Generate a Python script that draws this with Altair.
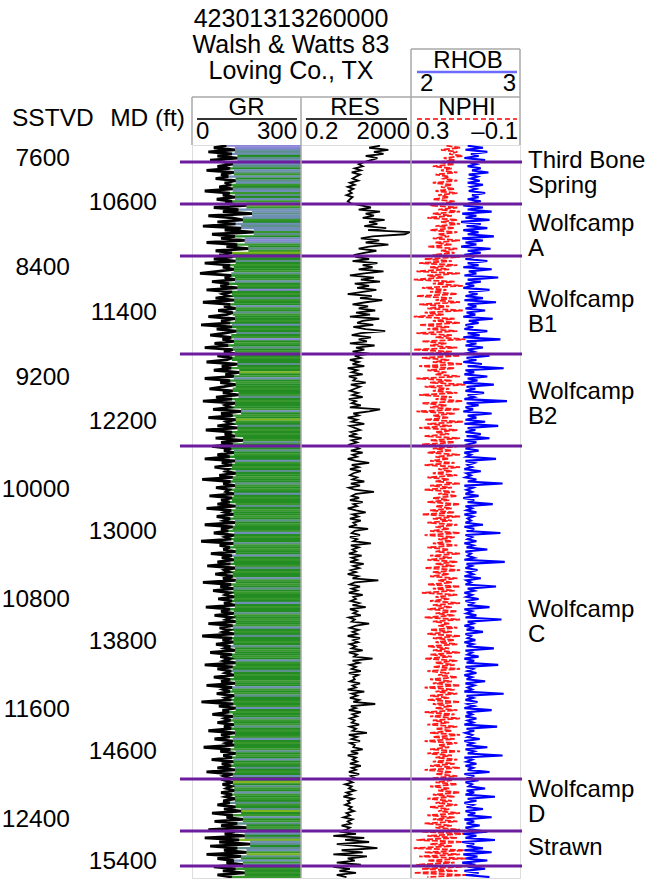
import altair as alt
import pandas as pd

FONT = "Liberation Sans"
GRID = "#a8a8a8"
PURPLE = "#6c1d9e"

# ---------------- data ----------------
MD_START = 10185   # first sample (ft MD)
MD_STEP = 15       # sample spacing (ft)

gr = [
    95, 60, 118, 45, 110, 70, 125, 50, 88, 112, 70, 105, 40, 115, 80, 100, 65, 120, 90, 108,
    75, 112, 35, 104, 85, 118, 68, 110, 92, 150, 60, 128, 85, 165, 45, 110, 140, 70, 120, 30,
    135, 90, 170, 55, 118, 80, 145, 40, 125, 95, 155, 65, 110, 75, 112, 60, 120, 35, 105, 85,
    115, 70, 22, 108, 90, 118, 55, 102, 78, 125, 40, 110, 85, 100, 65, 116, 30, 105, 88, 120,
    72, 112, 95, 45, 118, 80, 105, 25, 110, 68, 122, 90, 50, 108, 84, 115, 62, 100, 35, 112,
    88, 118, 70, 110, 95, 40, 125, 82, 108, 60, 130, 92, 115, 35, 105, 78, 120, 88, 48, 112,
    85, 128, 66, 110, 30, 118, 92, 104, 58, 135, 80, 112, 45, 120, 95, 108, 70, 125, 38, 110,
    90, 118, 65, 140, 80, 112, 55, 108, 88, 115, 70, 104, 35, 118, 82, 110, 62, 100, 92, 120,
    75, 112, 28, 106, 86, 118, 66, 102, 94, 115, 48, 110, 80, 104, 70, 120, 40, 108, 90, 114,
    68, 105, 88, 118, 35, 112, 80, 100, 60, 116, 92, 108, 25, 114, 76, 104, 86, 120, 52, 110,
    82, 115, 70, 106, 42, 118, 90, 102, 64, 112, 85, 120, 30, 108, 78, 114, 58, 104, 92, 116,
    72, 110, 88, 118, 38, 105, 80, 115, 62, 108, 94, 120, 45, 112, 76, 102, 86, 116, 28, 110,
    84, 114, 66, 106, 90, 118, 50, 110, 78, 104, 88, 120, 35, 112, 70, 108, 92, 115, 60, 105,
    80, 118, 40, 110, 86, 104, 68, 116, 92, 108, 26, 114, 74, 120, 84, 102, 56, 112, 90, 106,
    70, 115, 88, 108, 45, 118, 80, 104, 62, 112, 94, 116, 32, 106, 78, 120, 86, 110, 54, 114,
    82, 108, 70, 118, 40, 112, 88, 104, 90, 112, 84, 108, 95, 116, 80, 110, 92, 118, 86, 104,
    70, 120, 88, 135, 55, 112, 95, 140, 62, 125, 80, 150, 45, 118, 90, 145, 35, 130, 75, 160,
    50, 125, 88, 150, 40, 135, 70, 115, 95, 140, 60, 120, 85, 145, 70, 110,
]

gr_shade = "".join([
    "PPBTBGTBgBTGBTgBGTBg", "GTBgTGBgTYgBBTBBgGBT", "BBgTGBPBgGTgYGgGTGgG",
    "GgTGGgBGgGPGgGTgGGBg", "GTgGGgGBGgGTGgPGgGTG", "gGGgGGTGgGYGgBGgGGgG",
    "GgTGgGGGgBGgGYgGTGgG", "gGGgTGgGTGgGGBgGgGTG", "GgGGTgGgGBGgGGgTGgGG",
    "gGTGgGGgBGgGGTgGgGGB", "GgGGgTGgGGBgGgGTGgGG", "gGBGgGGTgGgGGgBGgGTG",
    "GgGTGgGGgGBgGgGTGgGG", "gGGBgGgTGGgGgBGgGGTg", "GgTGgGGgBGgGGgTGgGBG",
    "gGTGgGBGgYGTgGBgGgGT", "gGTYGgBGgTGgGTBGTYBT", "GTBgYTGBgTGgGgGg",
])

res = [
    150, 60, 300, 90, 200, 45, 120, 70, 40, 25, 35, 18, 30, 14, 28, 20, 15, 24, 12, 18,
    10, 16, 11, 14, 9, 15, 12, 10, 13, 30, 70, 25, 150, 45, 90, 35, 220, 60, 120, 40,
    250, 55, 1800, 1200, 80, 30, 140, 45, 300, 60, 25, 110, 40, 18, 20, 60, 15, 120, 35, 80,
    25, 200, 40, 12, 90, 30, 150, 18, 60, 22, 110, 35, 10, 75, 28, 180, 45, 15, 55, 25,
    100, 20, 65, 12, 140, 35, 22, 85, 16, 45, 230, 30, 14, 70, 25, 50, 12, 95, 20, 40,
    15, 60, 18, 30, 12, 25, 15, 40, 10, 22, 14, 35, 11, 20, 16, 45, 13, 28, 18, 12,
    24, 15, 35, 11, 20, 14, 30, 12, 150, 60, 16, 25, 10, 22, 14, 40, 12, 18, 28, 13,
    20, 11, 32, 14, 22, 12, 18, 26, 13, 35, 15, 22, 10, 20, 60, 14, 25, 12, 30, 16,
    12, 22, 15, 40, 13, 28, 11, 18, 90, 20, 14, 26, 12, 35, 16, 22, 10, 20, 45, 15,
    24, 12, 30, 16, 20, 11, 55, 18, 14, 28, 12, 22, 16, 70, 13, 25, 15, 20, 11, 32,
    14, 22, 12, 38, 16, 26, 13, 20, 10, 24, 15, 130, 18, 12, 28, 14, 22, 11, 35, 16,
    20, 13, 26, 15, 45, 12, 22, 16, 30, 11, 18, 14, 60, 20, 12, 25, 15, 22, 10, 28,
    16, 24, 12, 20, 14, 35, 11, 22, 17, 80, 15, 26, 12, 20, 14, 30, 11, 24, 16, 18,
    12, 28, 15, 20, 10, 40, 14, 22, 12, 26, 16, 100, 13, 20, 11, 30, 15, 22, 12, 18,
    14, 26, 12, 20, 15, 50, 11, 22, 14, 28, 12, 18, 16, 35, 13, 24, 10, 20, 15, 22,
    12, 30, 14, 20, 11, 26, 13, 18, 10, 15, 8, 14, 11, 18, 9, 13, 7, 16, 10, 12,
    8, 14, 11, 17, 9, 12, 7, 15, 10, 13, 6, 12, 9, 5, 20, 3, 40, 8, 60, 4,
    25, 120, 6, 35, 3, 50, 10, 18, 4, 30, 3, 12, 5, 20, 4, 9,
]

nphi = [
    0.17, 0.12, 0.19, 0.13, 0.16, 0.11, 0.18, 0.14, 0.20, 0.14, 0.22, 0.15, 0.19, 0.13, 0.21, 0.16, 0.18, 0.13, 0.22, 0.15,
    0.19, 0.14, 0.21, 0.13, 0.20, 0.16, 0.22, 0.14, 0.18, 0.23, 0.13, 0.20, 0.12, 0.22, 0.15, 0.24, 0.13, 0.19, 0.12, 0.21,
    0.14, 0.23, 0.13, 0.20, 0.16, 0.22, 0.12, 0.21, 0.15, 0.24, 0.13, 0.19, 0.14, 0.22, 0.12, 0.25, 0.15, 0.27, 0.13, 0.23,
    0.16, 0.28, 0.12, 0.24, 0.18, 0.29, 0.14, 0.22, 0.11, 0.26, 0.17, 0.23, 0.13, 0.28, 0.15, 0.21, 0.12, 0.27, 0.16, 0.24,
    0.11, 0.25, 0.18, 0.29, 0.14, 0.22, 0.12, 0.27, 0.16, 0.24, 0.13, 0.28, 0.15, 0.21, 0.10, 0.26, 0.17, 0.23, 0.13, 0.29,
    0.15, 0.24, 0.12, 0.26, 0.16, 0.22, 0.11, 0.27, 0.14, 0.24, 0.17, 0.21, 0.12, 0.28, 0.15, 0.23, 0.10, 0.25, 0.16, 0.22,
    0.13, 0.27, 0.15, 0.21, 0.11, 0.26, 0.17, 0.23, 0.12, 0.28, 0.14, 0.22, 0.16, 0.25, 0.11, 0.24, 0.15, 0.27, 0.13, 0.21,
    0.16, 0.25, 0.12, 0.23, 0.14, 0.26, 0.13, 0.22, 0.15, 0.24, 0.12, 0.21, 0.16, 0.23, 0.14, 0.25, 0.12, 0.20, 0.15, 0.22,
    0.13, 0.24, 0.16, 0.21, 0.12, 0.23, 0.15, 0.25, 0.14, 0.20, 0.13, 0.22, 0.16, 0.24, 0.12, 0.21, 0.15, 0.23, 0.14, 0.26,
    0.12, 0.22, 0.15, 0.24, 0.13, 0.21, 0.16, 0.23, 0.12, 0.25, 0.14, 0.20, 0.15, 0.22, 0.13, 0.24, 0.16, 0.21, 0.12, 0.23,
    0.15, 0.24, 0.13, 0.21, 0.14, 0.25, 0.12, 0.22, 0.16, 0.23, 0.13, 0.20, 0.15, 0.24, 0.12, 0.22, 0.14, 0.26, 0.13, 0.21,
    0.16, 0.23, 0.12, 0.22, 0.15, 0.24, 0.13, 0.21, 0.14, 0.25, 0.12, 0.22, 0.16, 0.20, 0.13, 0.23, 0.15, 0.24, 0.12, 0.22,
    0.14, 0.21, 0.13, 0.24, 0.16, 0.22, 0.12, 0.23, 0.15, 0.25, 0.13, 0.21, 0.14, 0.22, 0.12, 0.24, 0.16, 0.20, 0.13, 0.23,
    0.15, 0.22, 0.12, 0.25, 0.14, 0.21, 0.13, 0.23, 0.16, 0.24, 0.12, 0.22, 0.15, 0.21, 0.13, 0.25, 0.14, 0.23, 0.12, 0.22,
    0.16, 0.24, 0.13, 0.21, 0.15, 0.23, 0.12, 0.22, 0.14, 0.25, 0.13, 0.20, 0.16, 0.23, 0.12, 0.24, 0.15, 0.21, 0.13, 0.22,
    0.14, 0.23, 0.12, 0.25, 0.15, 0.21, 0.13, 0.22, 0.15, 0.21, 0.13, 0.23, 0.16, 0.20, 0.12, 0.22, 0.14, 0.24, 0.15, 0.21,
    0.13, 0.23, 0.16, 0.20, 0.12, 0.24, 0.14, 0.22, 0.13, 0.25, 0.15, 0.21, 0.12, 0.26, 0.10, 0.24, 0.13, 0.28, 0.11, 0.23,
    0.15, 0.29, 0.09, 0.25, 0.12, 0.27, 0.10, 0.24, 0.14, 0.28, 0.11, 0.26, 0.13, 0.29, 0.10, 0.24,
]

rhob = [
    2.52, 2.66, 2.50, 2.70, 2.55, 2.62, 2.49, 2.68, 2.54, 2.60, 2.52, 2.64, 2.56, 2.71, 2.53, 2.61, 2.55, 2.63, 2.52, 2.66,
    2.55, 2.60, 2.53, 2.68, 2.56, 2.62, 2.52, 2.64, 2.54, 2.48, 2.66, 2.52, 2.74, 2.47, 2.60, 2.50, 2.72, 2.46, 2.64, 2.51,
    2.70, 2.48, 2.62, 2.52, 2.76, 2.47, 2.66, 2.50, 2.60, 2.46, 2.73, 2.52, 2.64, 2.49, 2.58, 2.50, 2.70, 2.52, 2.62, 2.48,
    2.74, 2.53, 2.60, 2.49, 2.80, 2.52, 2.64, 2.50, 2.58, 2.48, 2.72, 2.53, 2.61, 2.50, 2.66, 2.49, 2.78, 2.52, 2.60, 2.50,
    2.68, 2.51, 2.59, 2.48, 2.75, 2.53, 2.62, 2.50, 2.57, 2.49, 2.70, 2.52, 2.63, 2.48, 2.82, 2.51, 2.60, 2.50, 2.66, 2.52,
    2.58, 2.49, 2.72, 2.51, 2.60, 2.48, 2.65, 2.52, 2.85, 2.50, 2.58, 2.49, 2.70, 2.52, 2.61, 2.48, 2.76, 2.51, 2.59, 2.50,
    2.67, 2.52, 2.58, 2.49, 2.88, 2.51, 2.62, 2.50, 2.57, 2.48, 2.74, 2.52, 2.60, 2.50, 2.68, 2.49, 2.80, 2.52, 2.59, 2.50,
    2.64, 2.51, 2.72, 2.49, 2.60, 2.52, 2.57, 2.50, 2.62, 2.49, 2.55, 2.51, 2.78, 2.50, 2.58, 2.52, 2.56, 2.49, 2.64, 2.51,
    2.55, 2.50, 2.60, 2.52, 2.84, 2.49, 2.57, 2.51, 2.56, 2.50, 2.62, 2.48, 2.58, 2.52, 2.75, 2.50, 2.56, 2.51, 2.60, 2.49,
    2.57, 2.52, 2.55, 2.50, 2.66, 2.49, 2.58, 2.51, 2.82, 2.50, 2.56, 2.52, 2.60, 2.49, 2.57, 2.51, 2.70, 2.50, 2.55, 2.52,
    2.58, 2.49, 2.86, 2.51, 2.56, 2.50, 2.61, 2.52, 2.57, 2.49, 2.64, 2.51, 2.55, 2.50, 2.78, 2.52, 2.58, 2.49, 2.56, 2.51,
    2.62, 2.50, 2.57, 2.52, 2.72, 2.49, 2.56, 2.51, 2.60, 2.50, 2.83, 2.52, 2.57, 2.49, 2.58, 2.51, 2.66, 2.50, 2.55, 2.52,
    2.59, 2.49, 2.57, 2.51, 2.76, 2.50, 2.56, 2.52, 2.62, 2.49, 2.58, 2.51, 2.80, 2.50, 2.57, 2.52, 2.60, 2.49, 2.56, 2.51,
    2.68, 2.50, 2.58, 2.52, 2.56, 2.49, 2.85, 2.51, 2.57, 2.50, 2.61, 2.52, 2.58, 2.49, 2.74, 2.51, 2.56, 2.50, 2.60, 2.52,
    2.57, 2.49, 2.79, 2.51, 2.58, 2.50, 2.56, 2.52, 2.63, 2.49, 2.57, 2.51, 2.70, 2.50, 2.58, 2.52, 2.84, 2.49, 2.56, 2.51,
    2.60, 2.50, 2.57, 2.52, 2.72, 2.49, 2.58, 2.51, 2.62, 2.50, 2.56, 2.53, 2.68, 2.51, 2.58, 2.50, 2.77, 2.52, 2.60, 2.49,
    2.57, 2.51, 2.66, 2.50, 2.59, 2.52, 2.74, 2.49, 2.58, 2.51, 2.63, 2.50, 2.56, 2.70, 2.48, 2.60, 2.50, 2.77, 2.47, 2.58,
    2.51, 2.66, 2.49, 2.74, 2.48, 2.61, 2.50, 2.70, 2.47, 2.59, 2.52, 2.68, 2.49, 2.62, 2.50, 2.72,
]

tops_md = [10304, 10609, 10988, 11702, 12371, 14796, 15175, 15430]
form_names = ["Third Bone\nSpring", "Wolfcamp\nA", "Wolfcamp\nB1", "Wolfcamp\nB2",
              "Wolfcamp\nC", "Wolfcamp\nD", "Strawn"]
form_label_md = [10296, 10755, 11308, 11978, 13565, 14876, 15298]   # depth of first label line

md_ticks = [10600, 11400, 12200, 13000, 13800, 14600, 15400]
sstvd_ticks = [7600, 8400, 9200, 10000, 10800, 11600, 12400]
sstvd_md = [10284, 11077, 11877, 12692, 13493, 14294, 15094]

title_lines = ["42301313260000", "Walsh & Watts 83", "Loving Co., TX"]

# ---------------- layout ----------------
W, H = 328, 733
T1, T2 = 109, 219           # track boundaries inside the plot area
MD_DOMAIN = [10180, 15517]

ONE = pd.DataFrame({"k": [0]})
yscale = alt.Scale(domain=MD_DOMAIN, reverse=True, nice=False, zero=False)
y_enc = alt.Y("md:Q", scale=yscale, axis=None)


def curve_df(name, values):
    return pd.DataFrame({"md": [MD_START + MD_STEP * i for i in range(len(values))],
                         name: values})


gr_df = curve_df("gr", gr)
n = min(len(gr_df), len(gr_shade))
gr_df = gr_df.iloc[:n].copy()
gr_df["shade"] = list(gr_shade[:n])
gr_df["fill_start"] = gr_df["gr"].rolling(3, center=True, min_periods=1).max()
gr_df["top"] = gr_df["md"] - MD_STEP / 2 - 1
gr_df["bot"] = gr_df["md"] + MD_STEP / 2 + 1
gr_df["right"] = 300

gr_x = alt.Scale(domain=[0, 300], range=[0, T1], nice=False, zero=False)
res_x = alt.Scale(type="log", domain=[0.2, 2000], range=[T1, T2], nice=False)
nphi_x = alt.Scale(domain=[-0.1, 0.3], range=[W, T2], nice=False, zero=False)
rhob_x = alt.Scale(domain=[2, 3], range=[T2, W], nice=False, zero=False)

fill = alt.Chart(gr_df).mark_rect(strokeWidth=0, clip=True).encode(
    x=alt.X("fill_start:Q", scale=gr_x, axis=None),
    x2="right:Q",
    y=alt.Y("top:Q", scale=yscale, axis=None),
    y2="bot:Q",
    color=alt.Color("shade:N", legend=None,
                    scale=alt.Scale(domain=["G", "g", "T", "B", "P", "Y"],
                                    range=["#238c23", "#38982e", "#5e8f8c",
                                           "#6f8fb4", "#8884d8", "#7fb51e"])),
)

gr_line = alt.Chart(gr_df).mark_line(color="black", strokeWidth=2.8, clip=True).encode(
    x=alt.X("gr:Q", scale=gr_x, axis=None), y=y_enc, order="md:Q")

res_line = alt.Chart(curve_df("res", res)).mark_line(color="black", strokeWidth=1.8, clip=True).encode(
    x=alt.X("res:Q", scale=res_x, axis=None), y=y_enc, order="md:Q")

nphi_line = alt.Chart(curve_df("nphi", nphi)).mark_line(
    color="#ff1a1a", strokeWidth=1.8, strokeDash=[6, 2], clip=True).encode(
    x=alt.X("nphi:Q", scale=nphi_x, axis=None), y=y_enc, order="md:Q")

rhob_line = alt.Chart(curve_df("rhob", rhob)).mark_line(color="#0000ff", strokeWidth=2.1, clip=True).encode(
    x=alt.X("rhob:Q", scale=rhob_x, axis=None), y=y_enc, order="md:Q")

tops = alt.Chart(pd.DataFrame({"md": tops_md})).mark_rule(color=PURPLE, strokeWidth=3).encode(
    y=y_enc, x=alt.value(-12), x2=alt.value(W + 2))

form_labels = alt.Chart(pd.DataFrame({"md": form_label_md, "name": form_names})).mark_text(
    align="left", baseline="middle", fontSize=24, font=FONT, lineBreak="\n", lineHeight=25).encode(
    y=y_enc, x=alt.value(W + 8), text="name:N")

md_labels = alt.Chart(pd.DataFrame({"md": md_ticks, "lab": [str(v) for v in md_ticks]})).mark_text(
    align="right", baseline="middle", fontSize=24.5, font=FONT).encode(
    y=y_enc, x=alt.value(-35), text="lab:N")

sstvd_labels = alt.Chart(pd.DataFrame({"md": sstvd_md, "lab": [str(v) for v in sstvd_ticks]})).mark_text(
    align="right", baseline="middle", fontSize=24.5, font=FONT).encode(
    y=y_enc, x=alt.value(-122), text="lab:N")


def txt(s, x, y, size=24, align="center"):
    return alt.Chart(ONE).mark_text(text=s, align=align, baseline="middle",
                                    fontSize=size, font=FONT, color="black").encode(
        x=alt.value(x), y=alt.value(y))


def seg(x1, y1, x2, y2, color=GRID, width=1.5, dash=None):
    kw = dict(color=color, strokeWidth=width)
    if dash:
        kw["strokeDash"] = dash
    return alt.Chart(ONE).mark_rule(**kw).encode(
        x=alt.value(x1), x2=alt.value(x2), y=alt.value(y1), y2=alt.value(y2))


decor = [
    # track separators and header boxes
    seg(T1, -48, T1, H), seg(T2, -96, T2, H),
    seg(0, -48, 0, 0), seg(W, -96, W, 0),
    seg(0, -48, W, -48), seg(T2, -96, W, -96),
    # header legend lines
    seg(5, -26, 105, -26, color="#333333", width=2),
    seg(114, -26, 215, -26, color="#333333", width=2),
    seg(225, -26, 325, -26, color="#ff4040", width=2, dash=[5, 3]),
    seg(225, -73, 325, -73, color="#6b6bff", width=2.5),
]

texts = [
    txt(title_lines[0], 99, -126, 25), txt(title_lines[1], 99, -100, 25), txt(title_lines[2], 99, -74, 25),
    txt("SSTVD", -180, -26, 24.5, "left"), txt("MD (ft)", -7, -26, 24.5, "right"),
    txt("GR", 54.5, -37), txt("0", 4, -13, 24, "left"), txt("300", 105, -13, 24, "right"),
    txt("RES", 163, -37), txt("0.2", 113, -13, 24, "left"), txt("2000", 218, -13, 24, "right"),
    txt("NPHI", 275, -37), txt("0.3", 224, -13, 24, "left"), txt("\u20130.1", 326, -13, 24, "right"),
    txt("RHOB", 276, -84), txt("2", 228, -61, 24, "left"), txt("3", 324, -61, 24, "right"),
]

chart = alt.layer(
    fill, gr_line, res_line, nphi_line, rhob_line, tops,
    form_labels, md_labels, sstvd_labels, *decor, *texts
).resolve_scale(x="independent").properties(
    width=W, height=H,
    padding={"left": 192, "top": 145, "right": 664 - 192 - W, "bottom": 882 - 145 - H},
    autosize=alt.AutoSizeParams(type="none"),
).configure_view(stroke=GRID, strokeWidth=1.5).configure(background="white")

chart.save("out.html", embed_options={"renderer": "svg", "actions": False})
